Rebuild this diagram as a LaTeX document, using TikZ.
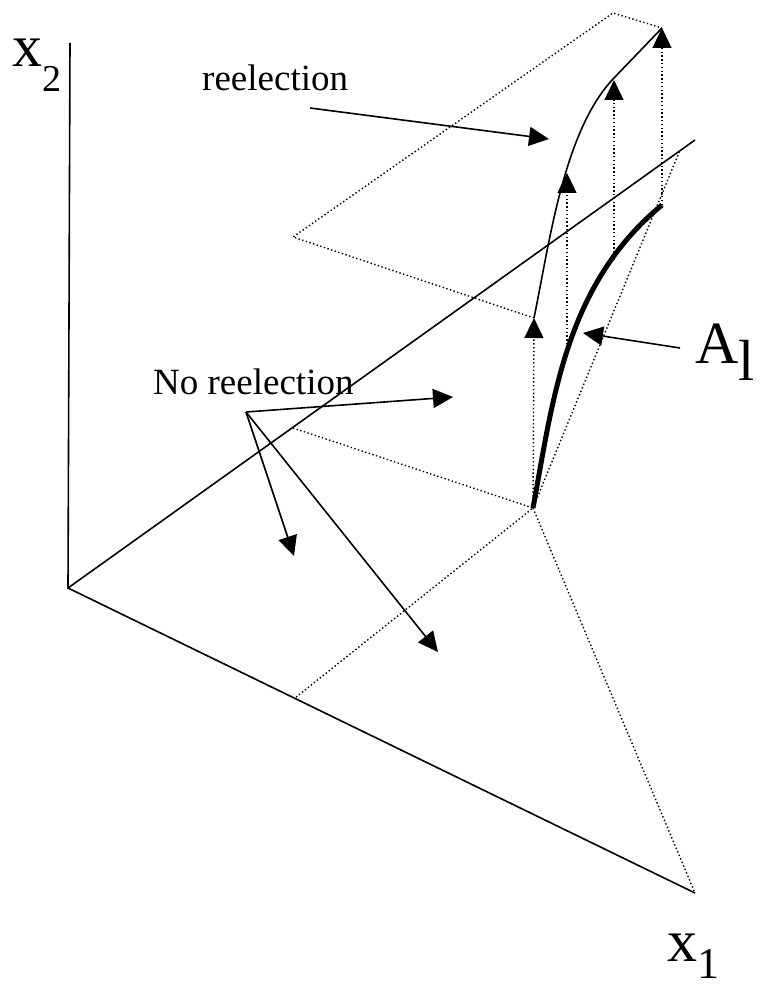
\documentclass[tikz,border=0pt]{standalone}
\usepackage{fontspec}
\setmainfont{Liberation Serif}
\usetikzlibrary{arrows.meta}
\begin{document}
\begin{tikzpicture}[x=1pt,y=-1pt,
  axisline/.style={line width=1.6pt},
  dotline/.style={line width=1.4pt, dash pattern=on 1.4pt off 2.4pt},
  pointer/.style={line width=1.6pt, -{Triangle[length=20pt,width=19pt]}},
  lift/.style={dotline, -{Triangle[length=20pt,width=19pt]}},
  lbl/.style={anchor=base west, inner sep=0pt, font=\fontsize{37}{40}\selectfont},
  biglbl/.style={anchor=base west, inner sep=0pt, font=\fontsize{60}{60}\selectfont}]
\useasboundingbox (0,0) rectangle (762,987);
% axes
\coordinate (O) at (68,588);
\coordinate (X2end) at (70,43);
\coordinate (X1end) at (695,893);
\coordinate (Dend) at (695,140);
\draw[axisline] (X2end) -- (O) -- (X1end);
\draw[axisline] (O) -- (Dend);
% points
\coordinate (P) at (533,508);
\coordinate (D1) at (293,428);
\coordinate (B1) at (295,698);
\coordinate (D2) at (680,150);
\coordinate (T0) at (293,237);
\coordinate (T1) at (613,13);
\coordinate (U1) at (534,318);
\coordinate (U2) at (567,173);
\coordinate (U3) at (614,80);
\coordinate (U4) at (662,28);
\coordinate (L2) at (567,352);
\coordinate (L3) at (614,260);
\coordinate (L4) at (662,205);
% bottom dotted plane
\draw[dotline] (D1) -- (P) -- (B1);
\draw[dotline] (P) -- (X1end);
\draw[dotline] (P) -- (D2);
% top dotted plane
\draw[dotline] (U1) -- (T0) -- (T1) -- (U4);
% vertical lifts
\draw[lift] (P) -- (U1);
\draw[lift] (L2) -- (U2);
\draw[lift] (L3) -- (U3);
\draw[lift] (L4) -- (U4);
% reelection curve
\coordinate (Rm) at (614,78);
\draw[line width=1.6pt] (U1) .. controls (550,240) and (564,130) .. (Rm) -- (U4);
% A1 curve
\draw[line width=5pt] (P) .. controls (553,400) and (565,285) .. (L4);
% labels
\node[lbl] (reel) at (202,91) {reelection};
\node[lbl] (noreel) at (153,394) {No reelection};
\node[biglbl] (xtwo) at (12,67) {x\raisebox{-25pt}{\fontsize{38}{38}\selectfont 2}};
\node[biglbl] (xone) at (667,961) {x\raisebox{-17pt}{\fontsize{44}{44}\selectfont 1}};
\node[biglbl] (Alab) at (695,363) {A\raisebox{-17pt}{\fontsize{58}{58}\selectfont l}};
% pointer arrows
\coordinate (rs) at (310,108);
\coordinate (rt) at (549,139);
\draw[pointer] (rs) -- (rt);
\coordinate (hub) at (246,412);
\coordinate (n1) at (453,397);
\coordinate (n2) at (294,556);
\coordinate (n3) at (438,652);
\draw[pointer] (hub) -- (n1);
\draw[pointer] (hub) -- (n2);
\draw[pointer] (hub) -- (n3);
\coordinate (as) at (680,348);
\coordinate (at) at (583,333);
\draw[pointer] (as) -- (at);
\end{tikzpicture}
\end{document}
